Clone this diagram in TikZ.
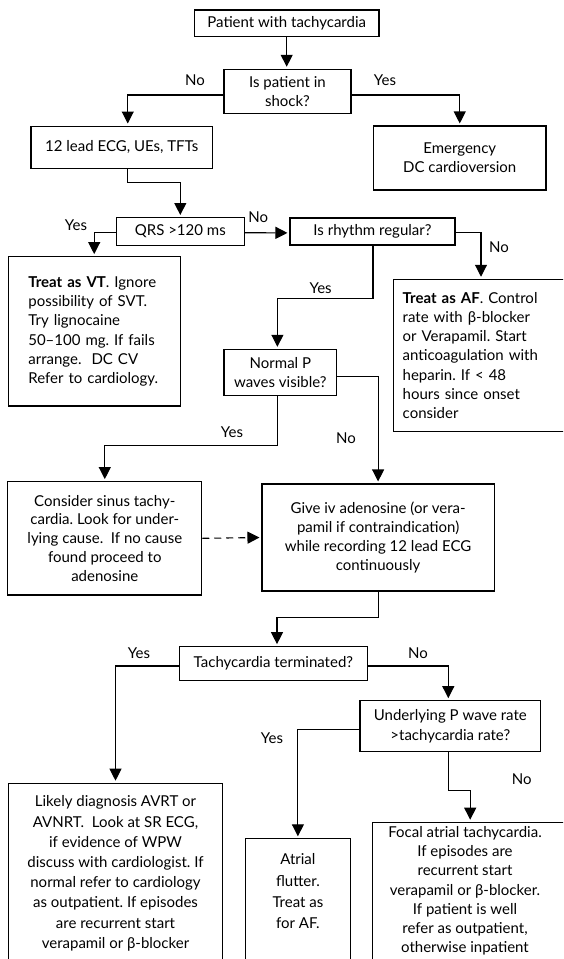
\documentclass[tikz,border=0pt]{standalone}
\usepackage{fontspec}
\setmainfont{Lato}
\usetikzlibrary{positioning, arrows.meta, calc}
\frenchspacing

\begin{document}
\begin{tikzpicture}[x=1pt, y=-1pt, line width=1.1pt,
    font=\fontsize{15}{19.3}\selectfont,
    >={Triangle[length=12pt, width=12pt]}]

    % --- Styles ---
    \tikzset{
        box/.style={rectangle, draw=black, align=center, inner sep=0pt},
        lbl/.style={inner sep=0pt},
        flow/.style={->, shorten >=2pt},
        dashflow/.style={flow, dash pattern=on 7pt off 5pt}
    }

    % --- Frame (cut like the original) ---
    \useasboundingbox (0,0) rectangle (563,959);
    \clip (0,0) rectangle (563,959);
    \fill[white] (0,0) rectangle (563,959);

    % --- Boxes ---
    \node[box, minimum width=184.5pt, minimum height=26.7pt] (patient) at (286.7, 23.3) {Patient with tachycardia};
    \node[box, minimum width=127pt, minimum height=44pt]     (shock)   at (287.5, 91.3) {Is patient in\\shock?};
    \node[box, minimum width=181.5pt, minimum height=42.3pt] (ecg)     at (121.75, 147.2) {12 lead ECG, UEs, TFTs};
    \node[box, minimum width=172.5pt, minimum height=64pt]   (emerg)   at (459.75, 158) {Emergency\\DC cardioversion};
    \node[box, minimum width=128.5pt, minimum height=27.5pt] (qrs)     at (180.3, 231.3) {QRS >120 ms};
    \node[box, minimum width=165pt, minimum height=27pt]     (rhythm)  at (372.5, 231.5) {Is rhythm regular?};

    \node[box, align=left, text width=131.7pt, inner xsep=20pt, minimum height=149.3pt] (vt) at (94.2, 331.3)
        {\textbf{Treat as VT}. Ignore\\possibility of SVT.\\Try lignocaine\\50–100 mg. If fails\\arrange.\ \ DC CV\\Refer to cardiology.};
    \node[box, align=left, text width=156.6pt, inner xsep=9.4pt, minimum height=152.4pt] (af) at (481, 355.5)
        {\textbf{Treat as AF}. Control\\rate with β-blocker\\or Verapamil. Start\\anticoagulation with\\heparin. If < 48\\hours since onset\\consider};

    \node[box, minimum width=112.8pt, minimum height=45.7pt] (normalp) at (280.4, 372.2) {Normal P\\waves visible?};

    \node[box, minimum width=193.8pt, minimum height=113.3pt, font=\fontsize{15}{18.8}\selectfont] (consider) at (104.8, 538.3)
        {Consider sinus tachy-\\cardia. Look for under-\\lying cause.\ \ If no cause\\found proceed to\\adenosine};
    \node[box, minimum width=232.2pt, minimum height=107pt, font=\fontsize{15}{18.9}\selectfont] (give) at (378.1, 537.5)
        {Give iv adenosine (or vera-\\pamil if contraindication)\\while recording 12 lead ECG\\continuously};

    \node[box, minimum width=188.4pt, minimum height=34pt] (tachy) at (273.4, 663.7) {Tachycardia terminated?};
    \node[box, minimum width=180.7pt, minimum height=51pt] (under) at (450.3, 726.2) {Underlying P wave rate\\>tachycardia rate?};

    % bottom boxes run off the page
    \node[box, anchor=north, minimum width=214.4pt, minimum height=200pt] (likely) at (115.5, 782.7) {};
    \node[align=center, font=\fontsize{15}{20.2}\selectfont] (likelytext) at (115.5, 873.4)
        {Likely diagnosis AVRT or\\AVNRT.\ \ Look at SR ECG,\\if evidence of WPW\\discuss with cardiologist. If\\normal refer to cardiology\\as outpatient. If episodes\\are recurrent start\\verapamil or β-blocker};
    \node[box, anchor=north, minimum width=105.7pt, minimum height=150pt] (atrial) at (297.9, 838.3) {};
    \node[align=center, font=\fontsize{15}{21.3}\selectfont] (atrialtext) at (297.9, 891.3)
        {Atrial\\flutter.\\Treat as\\for AF.};
    \node[box, anchor=north, minimum width=195pt, minimum height=160pt] (focal) at (470.2, 821.7) {};
    \node[align=center, font=\fontsize{15}{19.2}\selectfont] (focaltext) at (465, 890.8)
        {Focal atrial tachycardia.\\If episodes are\\recurrent start\\verapamil or β-blocker.\\If patient is well\\refer as outpatient,\\otherwise inpatient};

    % --- Connectors ---
    \draw[flow] (patient.south) -- (patient.south |- shock.north);
    \draw[flow] ([yshift=-3.7pt]shock.west) -| ([xshift=6pt]ecg.north);
    \draw[flow] ([yshift=-3.7pt]shock.east) -| (emerg.north);
    \draw[flow] ([xshift=6pt]ecg.south) -- ++(0,13.4) -| (qrs.north);
    \draw[flow] ([yshift=-1.4pt]qrs.west) -| (vt.north);
    \draw[flow] ([yshift=-1.4pt]qrs.east) -- ([yshift=-1.4pt]rhythm.west);
    \draw[flow] ([yshift=-1.4pt]rhythm.east) -| (af.north);
    \draw[flow] ([xshift=0.5pt]rhythm.south) -- ++(0,53.3) -| ([xshift=-3pt]normalp.north);
    \draw[flow] ([yshift=-4.5pt]normalp.east) -| (give.north);
    \draw[flow] ([xshift=-3pt]normalp.south) -- ++(0,50) -| (consider.north);
    \draw[dashflow] (consider.east) -- (give.west);
    \draw[flow] (give.south) -- ++(0,25.7) -| ([xshift=3.6pt]tachy.north);
    \draw[flow] ([yshift=-2.3pt]tachy.west) -| (likely.north);
    \draw[flow] ([yshift=-2.3pt]tachy.east) -| ([xshift=-2pt]under.north);
    \draw[flow] ([yshift=-3pt]under.west) -| (atrial.north);
    \draw[flow] ([xshift=-2pt]under.south) -- ++(0,38.3) -| (focal.north);

    % --- Yes / No labels ---
    \node[lbl] (noshock)   at (195, 80)      {No};
    \node[lbl] (yesshock)  at (385, 80)      {Yes};
    \node[lbl] (yesqrs)    at (76, 225)      {Yes};
    \node[lbl] (noqrs)     at (258.3, 217.3) {No};
    \node[lbl] (norhythm)  at (499, 246.7)   {No};
    \node[lbl] (yesrhythm) at (320.6, 288.3) {Yes};
    \node[lbl] (yesp)      at (232, 431.7)   {Yes};
    \node[lbl] (nop)       at (346, 438.3)   {No};
    \node[lbl] (yestach)   at (139, 652.7)   {Yes};
    \node[lbl] (notach)    at (418, 652.7)   {No};
    \node[lbl] (yesunder)  at (272, 738)     {Yes};
    \node[lbl] (nounder)   at (521.7, 779.3) {No};

\end{tikzpicture}
\end{document}
